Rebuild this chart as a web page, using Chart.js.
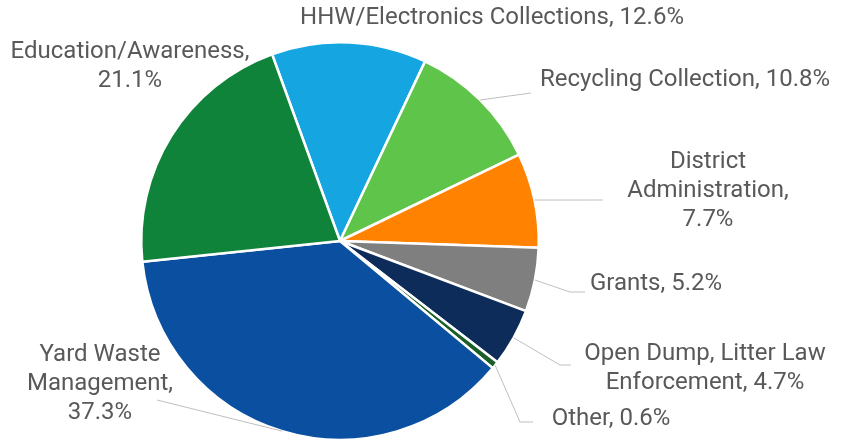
<!DOCTYPE html>
<html>
<head>
<meta charset="utf-8">
<script src="https://cdn.jsdelivr.net/npm/chart.js@4"></script>
<style>
  html, body { margin: 0; padding: 0; background: #ffffff; }
  #wrap { width: 846px; height: 443px; position: relative; }
</style>
</head>
<body>
<div id="wrap"><canvas id="pieChart"></canvas></div>
<script>
// data, in drawing order (clockwise from the top)
const categories = [
  "HHW/Electronics Collections",
  "Recycling Collection",
  "District Administration",
  "Grants",
  "Open Dump, Litter Law Enforcement",
  "Other",
  "Yard Waste Management",
  "Education/Awareness",
];
const shares = [12.6, 10.8, 7.7, 5.2, 4.7, 0.6, 37.3, 21.1];
const sliceColors = ["#15a6e2", "#5ec44a", "#ff8200", "#7f7f7f", "#0d2c5a", "#1a5e2a", "#0b4fa0", "#10833a"];

// how each label is written (line breaks as in the original)
const labelLines = [
  ["HHW/Electronics Collections, 12.6%"],
  ["Recycling Collection, 10.8%"],
  ["District", "Administration,", "7.7%"],
  ["Grants, 5.2%"],
  ["Open Dump, Litter Law", "Enforcement, 4.7%"],
  ["Other, 0.6%"],
  ["Yard Waste", "Management,", "37.3%"],
  ["Education/Awareness,", "21.1%"],
];

// label placement: text center, and leader line points after the arc edge
const labelLayout = [
  { x: 492, y: 18, line: null },
  { x: 685, y: 80, line: [[531, 93]] },
  { x: 708, y: 162, line: [[603, 200]] },
  { x: 656, y: 284, line: [[570, 292], [585, 292]] },
  { x: 705, y: 354, line: [[560, 365], [571, 365]] },
  { x: 611, y: 419, line: [[520, 422], [533, 422]] },
  { x: 100, y: 355, line: [[157, 400]] },
  { x: 130, y: 52, line: null },
];

const LINE_H = 29;

const outsideLabels = {
  id: "outsideLabels",
  afterDraw(chart) {
    const ctx = chart.ctx;
    const arcs = chart.getDatasetMeta(0).data;
    ctx.save();
    arcs.forEach((arc, i) => {
      const lay = labelLayout[i];
      if (lay.line) {
        const mid = (arc.startAngle + arc.endAngle) / 2;
        const sx = arc.x + Math.cos(mid) * arc.outerRadius;
        const sy = arc.y + Math.sin(mid) * arc.outerRadius;
        ctx.beginPath();
        ctx.moveTo(sx, sy);
        lay.line.forEach((p) => ctx.lineTo(p[0], p[1]));
        ctx.strokeStyle = "#bfbfbf";
        ctx.lineWidth = 1;
        ctx.stroke();
      }
      ctx.fillStyle = "#595959";
      ctx.font = "24px Roboto";
      ctx.textAlign = "center";
      ctx.textBaseline = "middle";
      labelLines[i].forEach((t, k) => {
        ctx.fillText(t, lay.x, lay.y + k * LINE_H);
      });
    });
    ctx.restore();
  },
};

new Chart(document.getElementById("pieChart"), {
  type: "pie",
  data: {
    labels: categories,
    datasets: [
      {
        data: shares,
        backgroundColor: sliceColors,
        borderColor: "#ffffff",
        borderWidth: 2.5,
      },
    ],
  },
  options: {
    responsive: true,
    maintainAspectRatio: false,
    animation: false,
    rotation: -20,
    layout: {
      padding: { left: 140, right: 306, top: 41, bottom: 2 },
    },
    plugins: {
      legend: { display: false },
      tooltip: { enabled: false },
    },
  },
  plugins: [outsideLabels],
});
</script>
</body>
</html>
